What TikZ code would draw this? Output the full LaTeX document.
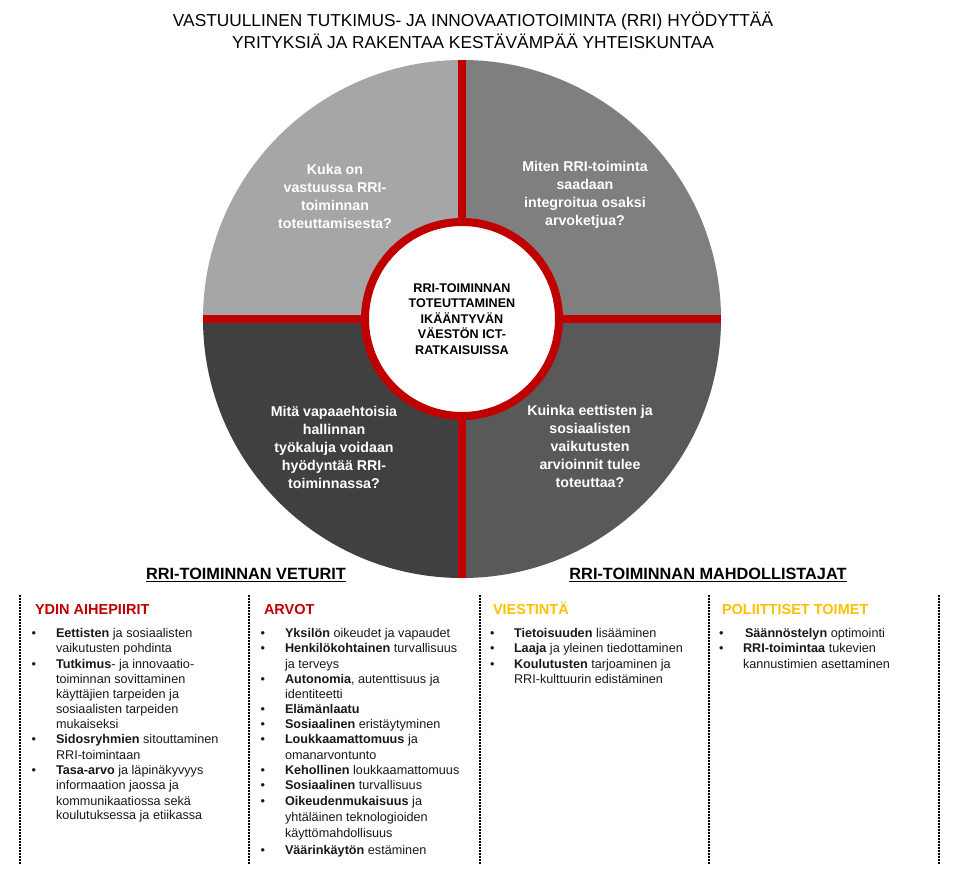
\documentclass[tikz,border=0pt]{standalone}
\usepackage{fontspec}
\setmainfont{Liberation Sans}
\definecolor{rred}{HTML}{C00000}
\definecolor{ryel}{HTML}{FFC000}
\definecolor{qa}{HTML}{A6A6A6}
\definecolor{qb}{HTML}{7F7F7F}
\definecolor{qc}{HTML}{404040}
\definecolor{qd}{HTML}{595959}
\tikzset{
  titletxt/.style={anchor=base, font=\fontsize{17.3}{20}\selectfont, text=black},
  qtext/.style={align=center, text=white, font=\fontsize{14.2}{18}\selectfont\bfseries},
  ctext/.style={align=center, text=black, font=\fontsize{12.6}{15.5}\selectfont\bfseries},
  headtxt/.style={anchor=base, font=\fontsize{16.3}{18}\selectfont\bfseries, text=black},
  colhead/.style={anchor=base west, font=\fontsize{14.5}{16}\selectfont\bfseries},
  btxt/.style={anchor=base west, font=\fontsize{12.65}{14}\selectfont, text=black!90},
  dotline/.style={line width=2pt, dash pattern=on 1.5pt off 1.5pt},
}
\newcommand\brow[5]{\node[btxt] (#1) at (#3,#4) {#5};\node[btxt] (#1-b) at (#2,#4) {\textbullet};}
\newcommand\crow[4]{\node[btxt] (#1) at (#2,#3) {#4};}
\begin{document}
\begin{tikzpicture}[x=1pt,y=-1pt, every node/.style={inner sep=0pt, outer sep=0pt}]
\useasboundingbox (0,0) rectangle (956,876);
\fill[white] (0,0) rectangle (956,876);
% title
\node[titletxt] (t1) at (473,26) {VASTUULLINEN TUTKIMUS- JA INNOVAATIOTOIMINTA (RRI) HYÖDYTTÄÄ};
\node[titletxt] (t2) at (473,48) {YRITYKSIÄ JA RAKENTAA KESTÄVÄMPÄÄ YHTEISKUNTAA};
% circle
\coordinate (C) at (462,319);
\begin{scope}[shift={(462,319)}, x=1pt, y=1pt]
  \fill[qa] (0,0) -- (-259,0) arc[start angle=180,end angle=90,radius=259pt] -- cycle;
  \fill[qb] (0,0) -- (0,259) arc[start angle=90,end angle=0,radius=259pt] -- cycle;
  \fill[qc] (0,0) -- (-259,0) arc[start angle=180,end angle=270,radius=259pt] -- cycle;
  \fill[qd] (0,0) -- (259,0) arc[start angle=0,end angle=-90,radius=259pt] -- cycle;
  \draw[rred, line width=8pt] (0,259) -- (0,-259);
  \draw[rred, line width=8pt] (-259,0) -- (259,0);
  \draw[rred, line width=8pt, fill=white] (0,0) circle[radius=97pt];
\end{scope}
\node[ctext] (center) at (C) {RRI-TOIMINNAN\\TOTEUTTAMINEN\\IKÄÄNTYVÄN\\VÄESTÖN ICT-\\RATKAISUISSA};
\node[qtext] (q1) at (335,196) {Kuka on\\vastuussa RRI-\\toiminnan\\toteuttamisesta?};
\node[qtext] (q2) at (585,195) {Miten RRI-toiminta\\saadaan\\integroitua osaksi\\arvoketjua?};
\node[qtext] (q3) at (334,447) {Mitä vapaaehtoisia\\hallinnan\\työkaluja voidaan\\hyödyntää RRI-\\toiminnassa?};
\node[qtext] (q4) at (590,446) {Kuinka eettisten ja\\sosiaalisten\\vaikutusten\\arvioinnit tulee\\toteuttaa?};
% headings
\node[headtxt] (h1) at (246,579) {RRI-TOIMINNAN VETURIT};
\node[headtxt] (h2) at (708,579) {RRI-TOIMINNAN MAHDOLLISTAJAT};
\draw[line width=1.4pt] ([yshift=-2.2pt]h1.base west) -- ([yshift=-2.2pt]h1.base east);
\draw[line width=1.4pt] ([yshift=-2.2pt]h2.base west) -- ([yshift=-2.2pt]h2.base east);
% dotted separators
\foreach \xx in {20,249,480,709,939}{\draw[dotline] (\xx,595) -- (\xx,865);}
% column headers
\node[colhead, text=rred] (k1) at (35,614.5) {YDIN AIHEPIIRIT};
\node[colhead, text=rred] (k2) at (264,614.5) {ARVOT};
\node[colhead, text=ryel] (k3) at (493,614.5) {VIESTINTÄ};
\node[colhead, text=ryel] (k4) at (722,614.5) {POLIITTISET TOIMET};
% column 1
\brow{r1a}{31.5}{56}{637.5}{\textbf{Eettisten} ja sosiaalisten}
\crow{r1b}{56}{652.5}{vaikutusten pohdinta}
\brow{r2a}{31.5}{56}{668}{\textbf{Tutkimus}- ja innovaatio-}
\crow{r2b}{56}{683}{toiminnan sovittaminen}
\crow{r2c}{56}{698.5}{käyttäjien tarpeiden ja}
\crow{r2d}{56}{713.5}{sosiaalisten tarpeiden}
\crow{r2e}{56}{728.5}{mukaiseksi}
\brow{r3a}{31.5}{56}{743.5}{\textbf{Sidosryhmien} sitouttaminen}
\crow{r3b}{56}{759}{RRI-toimintaan}
\brow{r4a}{31.5}{56}{774.5}{\textbf{Tasa-arvo} ja läpinäkyvyys}
\crow{r4b}{56}{789.5}{informaation jaossa ja}
\crow{r4c}{56}{805}{kommunikaatiossa sekä}
\crow{r4d}{56}{819.5}{koulutuksessa ja etiikassa}
% column 2
\brow{s1}{260.5}{285}{637.5}{\textbf{Yksilön} oikeudet ja vapaudet}
\brow{s2a}{260.5}{285}{652.5}{\textbf{Henkilökohtainen} turvallisuus}
\crow{s2b}{285}{668}{ja terveys}
\brow{s3a}{260.5}{285}{683}{\textbf{Autonomia}, autenttisuus ja}
\crow{s3b}{285}{698.5}{identiteetti}
\brow{s4}{260.5}{285}{713.5}{\textbf{Elämänlaatu}}
\brow{s5}{260.5}{285}{728.5}{\textbf{Sosiaalinen} eristäytyminen}
\brow{s6a}{260.5}{285}{743.5}{\textbf{Loukkaamattomuus} ja}
\crow{s6b}{285}{759}{omanarvontunto}
\brow{s7}{260.5}{285}{774.5}{\textbf{Kehollinen} loukkaamattomuus}
\brow{s8}{260.5}{285}{789.5}{\textbf{Sosiaalinen} turvallisuus}
\brow{s9a}{260.5}{285}{805}{\textbf{Oikeudenmukaisuus} ja}
\crow{s9b}{285}{821.5}{yhtäläinen teknologioiden}
\crow{s9c}{285}{837.5}{käyttömahdollisuus}
\brow{s10}{260.5}{285}{854.5}{\textbf{Väärinkäytön} estäminen}
% column 3
\brow{v1}{490}{514}{637.5}{\textbf{Tietoisuuden} lisääminen}
\brow{v2}{490}{514}{652.5}{\textbf{Laaja} ja yleinen tiedottaminen}
\brow{v3a}{490}{514}{668}{\textbf{Koulutusten} tarjoaminen ja}
\crow{v3b}{514}{683}{RRI-kulttuurin edistäminen}
% column 4
\brow{u1}{719}{745}{637.5}{\textbf{Säännöstelyn} optimointi}
\brow{u2a}{719}{743}{652.5}{\textbf{RRI-toimintaa} tukevien}
\crow{u2b}{743}{668}{kannustimien asettaminen}
\end{tikzpicture}
\end{document}
